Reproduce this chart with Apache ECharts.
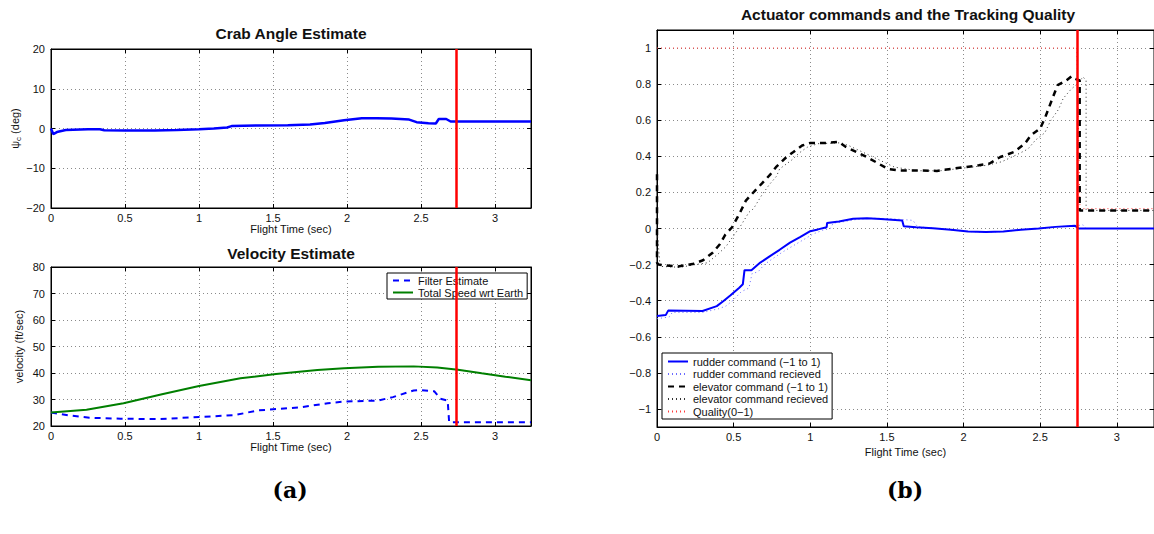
<!DOCTYPE html>
<html>
<head>
<meta charset="utf-8">
<script src="https://cdn.jsdelivr.net/npm/echarts@6/dist/echarts.min.js"></script>
<style>
html,body{margin:0;padding:0;background:#fff;}
#c{width:1154px;height:534px;}
</style>
</head>
<body>
<div id="c"></div>
<script>
// ---------- data ----------
var timeMax = 3.243;
var cutoffTime = 2.74;
var actYTicks = [-1, -0.8, -0.6, -0.4, -0.2, 0, 0.2, 0.4, 0.6, 0.8, 1];

var crabT = [0, 0.015, 0.04, 0.1, 0.25, 0.33, 0.36, 0.5, 0.7, 0.85, 1.0, 1.1, 1.19, 1.22, 1.4, 1.6, 1.75, 1.85, 1.98, 2.1, 2.2, 2.3, 2.42, 2.47, 2.55, 2.6, 2.62, 2.67, 2.7, 2.75, 3.243];
var crabAngle = [0, -1.4, -0.9, -0.4, -0.2, -0.2, -0.45, -0.5, -0.5, -0.4, -0.2, 0.0, 0.25, 0.6, 0.75, 0.8, 1.0, 1.4, 2.1, 2.6, 2.6, 2.5, 2.25, 1.6, 1.35, 1.25, 2.4, 2.4, 1.75, 1.75, 1.75];

var filterT = [0, 0.12, 0.26, 0.47, 0.73, 1.0, 1.24, 1.4, 1.68, 1.87, 1.98, 2.21, 2.31, 2.45, 2.49, 2.59, 2.63, 2.68, 2.69, 3.243];
var filterEstimate = [25.1, 24.0, 23.1, 22.75, 22.6, 23.4, 24.1, 25.9, 27.0, 28.6, 29.2, 29.6, 30.9, 33.4, 33.6, 33.1, 30.3, 29.6, 21.4, 21.4];

var speedT = [0, 0.24, 0.49, 0.75, 1.0, 1.28, 1.52, 1.8, 1.98, 2.21, 2.45, 2.61, 2.75, 2.91, 3.07, 3.243];
var totalSpeed = [25.1, 26.1, 28.6, 32.0, 35.1, 38.0, 39.6, 41.1, 41.75, 42.4, 42.5, 42.1, 41.25, 39.9, 38.6, 37.3];

var rudderT = [0, 0.057, 0.073, 0.297, 0.39, 0.434, 0.48, 0.537, 0.56, 0.571, 0.616, 0.674, 0.73, 0.8, 0.868, 0.936, 1.0, 1.05, 1.107, 1.11, 1.187, 1.28, 1.37, 1.461, 1.6, 1.61, 1.69, 1.8, 1.918, 2.03, 2.146, 2.26, 2.374, 2.49, 2.6, 2.728, 2.75, 3.243];
var rudderCmd = [-0.485, -0.48, -0.455, -0.457, -0.43, -0.402, -0.37, -0.328, -0.309, -0.231, -0.231, -0.189, -0.157, -0.118, -0.078, -0.046, -0.015, -0.005, 0.007, 0.031, 0.039, 0.054, 0.057, 0.052, 0.044, 0.013, 0.007, 0.002, -0.007, -0.017, -0.02, -0.017, -0.007, 0.0, 0.009, 0.015, 0.0, 0.0];

var rudderRecT = [0, 0.08, 0.1, 0.3, 0.4, 0.45, 0.5, 0.55, 0.6, 0.62, 0.66, 0.7, 0.75, 0.82, 0.9, 0.96, 1.02, 1.08, 1.13, 1.15, 1.2, 1.3, 1.4, 1.5, 1.6, 1.67, 1.7, 1.8, 1.92, 2.03, 2.15, 2.26, 2.37, 2.5, 2.6, 2.73, 2.78, 2.8, 3.243];
var rudderRec = [-0.5, -0.49, -0.465, -0.465, -0.445, -0.43, -0.395, -0.35, -0.33, -0.25, -0.24, -0.2, -0.17, -0.13, -0.09, -0.06, -0.03, -0.01, 0.0, 0.03, 0.035, 0.05, 0.057, 0.055, 0.05, 0.045, 0.01, 0.002, -0.007, -0.017, -0.02, -0.017, -0.007, 0.0, 0.009, 0.015, 0.02, 0.0, 0.0];

var elevT = [0, 0, 0.01, 0.137, 0.24, 0.3, 0.365, 0.41, 0.445, 0.49, 0.537, 0.58, 0.64, 0.685, 0.74, 0.776, 0.845, 0.89, 0.947, 1.0, 1.096, 1.187, 1.233, 1.37, 1.507, 1.575, 1.69, 1.826, 1.918, 2.009, 2.1, 2.17, 2.24, 2.33, 2.4, 2.44, 2.5, 2.534, 2.58, 2.614, 2.67, 2.705, 2.728, 2.758, 2.758, 3.243];
var elevCmd = [0.3, -0.19, -0.2, -0.211, -0.195, -0.176, -0.133, -0.087, -0.035, 0.007, 0.08, 0.155, 0.21, 0.25, 0.30, 0.34, 0.396, 0.424, 0.46, 0.474, 0.474, 0.48, 0.452, 0.396, 0.33, 0.322, 0.322, 0.319, 0.33, 0.34, 0.35, 0.36, 0.396, 0.424, 0.47, 0.517, 0.554, 0.618, 0.72, 0.794, 0.82, 0.844, 0.83, 0.82, 0.1, 0.1];

var elevRecT = [0, 0.02, 0.15, 0.25, 0.33, 0.4, 0.45, 0.5, 0.55, 0.6, 0.63, 0.68, 0.73, 0.78, 0.8, 0.88, 0.93, 0.98, 1.05, 1.2, 1.25, 1.4, 1.55, 1.7, 1.85, 1.95, 2.05, 2.15, 2.25, 2.35, 2.42, 2.47, 2.53, 2.57, 2.62, 2.65, 2.7, 2.74, 2.78, 2.8, 2.8, 3.243];
var elevRec = [0, -0.21, -0.215, -0.2, -0.19, -0.14, -0.1, -0.04, 0.02, 0.09, 0.11, 0.18, 0.24, 0.29, 0.33, 0.38, 0.42, 0.45, 0.47, 0.475, 0.46, 0.4, 0.34, 0.32, 0.32, 0.33, 0.34, 0.35, 0.37, 0.41, 0.44, 0.49, 0.53, 0.6, 0.66, 0.72, 0.77, 0.8, 0.84, 0.82, 0.1, 0.1];

var qualityT = [0, 2.74, 2.76, 3.243];
var quality = [1, 1, 0.11, 0.11];

// ---------- helpers ----------
function zip(xs, ys) { return xs.map(function (x, i) { return [x, ys[i]]; }); }
var FONT = "'Liberation Sans', Arial, Helvetica, sans-serif";
var SERIF = "'DejaVu Serif', 'Liberation Serif', serif";
function fmt(v) {
  var s = String(Math.round(v * 1000) / 1000);
  return s.replace('-', '\u2212');
}
var gridLine = { show: true, lineStyle: { color: '#8a8a8a', type: [1, 3], width: 1 } };
var lbl = { fontSize: 11, color: '#111', fontFamily: FONT };

function xAxisFor(gi, nameGap) {
  return [{
    type: 'value', gridIndex: gi, min: 0, max: timeMax, interval: 0.5,
    name: 'Flight Time (sec)', nameLocation: 'middle', nameGap: nameGap,
    nameTextStyle: { fontSize: 11, color: '#111', fontFamily: FONT },
    axisLine: { show: true, onZero: false, lineStyle: { color: '#000', width: 1 } },
    axisTick: { show: true, inside: true, length: 4, lineStyle: { color: '#000' } },
    axisLabel: Object.assign({ margin: 4, showMaxLabel: false, formatter: fmt }, lbl),
    splitLine: gridLine
  }, {
    type: 'value', gridIndex: gi, position: 'top', min: 0, max: timeMax, interval: 0.5,
    axisLine: { show: true, onZero: false, lineStyle: { color: '#000', width: 1 } },
    axisTick: { show: true, inside: true, length: 4, lineStyle: { color: '#000' } },
    axisLabel: { show: false }, splitLine: { show: false }
  }];
}

var chart = echarts.init(document.getElementById('c'), null, { renderer: 'svg' });

var xAxes = [].concat(xAxisFor(0, 10), xAxisFor(1, 10), xAxisFor(2, 12));

function yPair(gi, min, max, interval, name, nameGap, custom, rich) {
  var main = {
    type: 'value', gridIndex: gi, min: min, max: max,
    name: name, nameLocation: 'middle', nameGap: nameGap,
    nameTextStyle: { fontSize: 11, color: '#111', fontFamily: FONT, rich: rich },
    axisLine: { show: true, onZero: false, lineStyle: { color: '#000', width: 1 } },
    axisTick: { show: true, inside: true, length: 4, lineStyle: { color: '#000' } },
    axisLabel: Object.assign({ margin: 6, formatter: fmt }, lbl),
    splitLine: gridLine
  };
  var mirror = {
    type: 'value', gridIndex: gi, position: 'right', min: min, max: max,
    axisLine: { show: true, onZero: false, lineStyle: { color: '#000', width: 1 } },
    axisTick: { show: true, inside: true, length: 4, lineStyle: { color: '#000' } },
    axisLabel: { show: false }, splitLine: { show: false }
  };
  if (custom) {
    main.axisTick.customValues = custom;
    main.axisLabel.customValues = custom;
    mirror.axisTick.customValues = custom;
  } else {
    main.interval = interval; mirror.interval = interval;
  }
  return [main, mirror];
}

var yAxes = [].concat(
  yPair(0, -20, 20, 10, '{a|\u03C8}{b|c} (deg)', 27, null, {
    a: { fontSize: 11, color: '#111', fontFamily: FONT },
    b: { fontSize: 8, color: '#111', fontFamily: FONT, padding: [6, 0, 0, 0] }
  }),
  yPair(1, 20, 80, 10, 'velocity (ft/sec)', 27, null, null),
  yPair(2, -1.1, 1.1, null, '', 30, actYTicks, null)
);

var vline = {
  silent: true, symbol: 'none', label: { show: false },
  lineStyle: { color: '#ff0000', width: 2.5, type: 'solid' },
  data: [{ xAxis: cutoffTime }]
};

var titleStyle = { fontSize: 15.5, fontWeight: 'bold', color: '#111', fontFamily: FONT };
var capStyle = { fontSize: 22, fontWeight: 'bold', color: '#000', fontFamily: SERIF };
var legendCommon = {
  orient: 'vertical', itemWidth: 20, itemHeight: 8,
  borderColor: '#000', borderWidth: 1, backgroundColor: '#fff', borderRadius: 0,
  textStyle: { fontSize: 11, lineHeight: 11, color: '#111', fontFamily: FONT },
  itemStyle: { opacity: 0, color: 'transparent', borderColor: 'transparent', borderWidth: 0 },
  selectedMode: false
};

var option = {
  backgroundColor: '#fff',
  animation: false,
  textStyle: { fontFamily: FONT },
  title: [
    { text: 'Crab Angle Estimate', left: 291, top: 25, padding: 0, textAlign: 'center', textStyle: titleStyle },
    { text: 'Velocity Estimate', left: 291, top: 245, padding: 0, textAlign: 'center', textStyle: titleStyle },
    { text: 'Actuator commands and the Tracking Quality', left: 908, top: 6, padding: 0, textAlign: 'center', textStyle: titleStyle },
    { text: '(a)', left: 290, top: 479, padding: 0, textAlign: 'center', textStyle: capStyle },
    { text: '(b)', left: 905, top: 479, padding: 0, textAlign: 'center', textStyle: capStyle }
  ],
  legend: [
    Object.assign({}, legendCommon, {
      left: 387, top: 273, itemGap: 1, padding: [2, 4, 1, 5],
      data: ['Filter Estimate', 'Total Speed wrt Earth']
    }),
    Object.assign({}, legendCommon, {
      left: 662, top: 353, itemGap: 1.5, padding: [3, 4, 2, 5],
      data: ['rudder command (\u22121 to 1)', 'rudder command recieved', 'elevator command (\u22121 to 1)', 'elevator command recieved', 'Quality(0\u22121)']
    })
  ],
  grid: [
    { left: 51, top: 49, width: 480, height: 159, show: true, borderColor: '#000', borderWidth: 1, backgroundColor: '#fff' },
    { left: 51, top: 267, width: 480, height: 159, show: true, borderColor: '#000', borderWidth: 1, backgroundColor: '#fff' },
    { left: 657, top: 30, width: 502, height: 397, show: true, borderColor: '#000', borderWidth: 1, backgroundColor: '#fff' }
  ],
  xAxis: xAxes,
  yAxis: yAxes,
  series: [
    { name: 'Crab Angle', type: 'line', xAxisIndex: 0, yAxisIndex: 0, data: zip(crabT, crabAngle),
      symbol: 'none', lineStyle: { color: '#0000ff', width: 2.5 }, itemStyle: { color: '#0000ff' },
      markLine: vline, z: 3 },

    { name: 'Filter Estimate', type: 'line', xAxisIndex: 2, yAxisIndex: 2, data: zip(filterT, filterEstimate),
      symbol: 'none', lineStyle: { color: '#0000ff', width: 2, type: [6, 5] }, itemStyle: { color: '#0000ff' }, z: 3 },
    { name: 'Total Speed wrt Earth', type: 'line', xAxisIndex: 2, yAxisIndex: 2, data: zip(speedT, totalSpeed),
      symbol: 'none', lineStyle: { color: '#007f00', width: 2 }, itemStyle: { color: '#007f00' },
      markLine: vline, z: 3 },

    { name: 'rudder command (\u22121 to 1)', type: 'line', xAxisIndex: 4, yAxisIndex: 4, data: zip(rudderT, rudderCmd),
      symbol: 'none', lineStyle: { color: '#0000ff', width: 2 }, itemStyle: { color: '#0000ff' }, z: 4 },
    { name: 'rudder command recieved', type: 'line', xAxisIndex: 4, yAxisIndex: 4, data: zip(rudderRecT, rudderRec),
      symbol: 'none', lineStyle: { color: '#6b6bff', width: 1, type: [1, 3] }, itemStyle: { color: '#6b6bff' }, z: 3 },
    { name: 'elevator command (\u22121 to 1)', type: 'line', xAxisIndex: 4, yAxisIndex: 4, data: zip(elevT, elevCmd),
      symbol: 'none', lineStyle: { color: '#000', width: 2.5, type: [6, 5] }, itemStyle: { color: '#000' }, z: 4 },
    { name: 'elevator command recieved', type: 'line', xAxisIndex: 4, yAxisIndex: 4, data: zip(elevRecT, elevRec),
      symbol: 'none', lineStyle: { color: '#333', width: 1, type: [1, 3] }, itemStyle: { color: '#333' }, z: 3 },
    { name: 'Quality(0\u22121)', type: 'line', xAxisIndex: 4, yAxisIndex: 4, data: zip(qualityT, quality),
      symbol: 'none', lineStyle: { color: '#ff3b3b', width: 1, type: [1, 3] }, itemStyle: { color: '#ff3b3b' },
      markLine: vline, z: 3 }
  ]
};
chart.setOption(option);
</script>
</body>
</html>
